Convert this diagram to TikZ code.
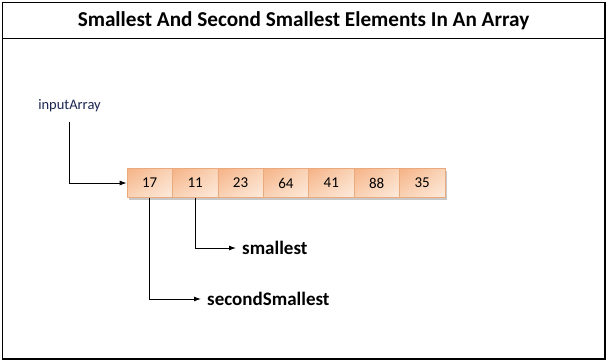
\documentclass[tikz,border=0pt]{standalone}
\usepackage{fontspec}
\setmainfont{Carlito}
\usetikzlibrary{arrows.meta,shadings}
\definecolor{cellA}{HTML}{F5B285}
\definecolor{cellB}{HTML}{FAD3B6}
\definecolor{cellC}{HTML}{FDEBDD}
\definecolor{cellborder}{HTML}{EBAA7E}
\definecolor{shadowc}{HTML}{C8C8C8}
\definecolor{navy}{HTML}{1A2550}
\begin{document}
\begin{tikzpicture}[x=1pt,y=-1pt,
  cell/.style={minimum width=45.4pt,minimum height=29pt,inner sep=0pt,draw=cellborder,line width=0.6pt,
    upper left=cellA,upper right=cellB,lower left=cellB,lower right=cellC,font=\fontsize{15}{17}\selectfont,
    text=black},
  conn/.style={line width=0.9pt,-{Latex[length=7pt,width=5pt]}},
  lbl/.style={font=\bfseries\fontsize{19}{22}\selectfont,anchor=west,inner sep=0pt},
  frame/.style={line width=1.6pt}]
\useasboundingbox (0,0) rectangle (607,362);
\draw[frame] (2.5,2.5) rectangle (605,359);
\draw[frame] (2.5,38.5) -- (605,38.5);
\node[font=\bfseries\fontsize{21.2}{25}\selectfont] (title) at (303.5,20.5) {Smallest And Second Smallest Elements In An Array};
\node[font=\fontsize{14.5}{17}\selectfont,text=navy,inner sep=0pt] (ia) at (69.5,106) {inputArray};
\fill[shadowc] (129,171) rectangle (447,200);
\foreach \v [count=\i] in {17,11,23,64,41,88,35} {
  \node[cell] (c\i) at ({127+45.4*(\i-0.5)},183) {\v};
}
\node[lbl] (sm) at (242,248) {smallest};
\node[lbl] (ssm) at (207,299) {secondSmallest};
\coordinate (p1) at (69,122);
\draw[conn] (p1) |- (c1.west);
\draw[conn] (c2.south) |- ([xshift=-6pt]sm.west);
\draw[conn] (c1.south) |- ([xshift=-6pt]ssm.west);
\end{tikzpicture}
\end{document}
